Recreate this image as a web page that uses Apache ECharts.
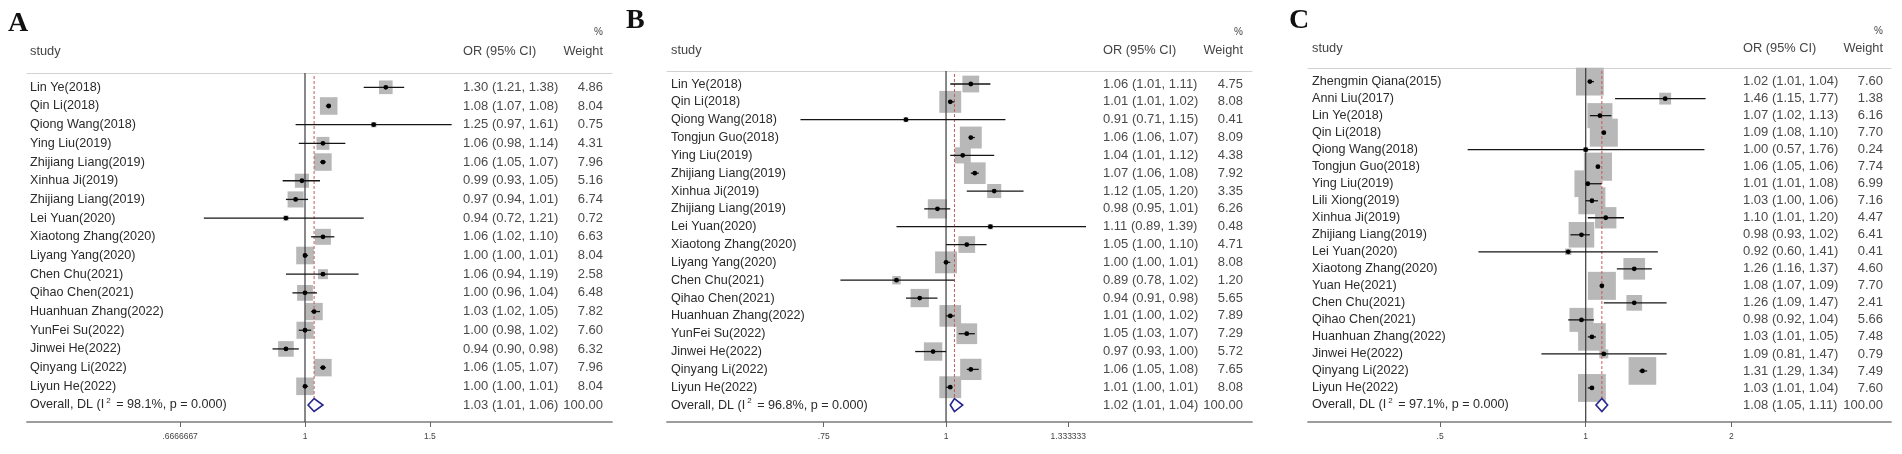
<!DOCTYPE html>
<html>
<head>
<meta charset="utf-8">
<script src="https://cdn.jsdelivr.net/npm/echarts@6/dist/echarts.min.js"></script>
<style>
  html, body { margin: 0; background: #fff; }
  #chart { width: 1902px; height: 454px; }
</style>
</head>
<body>
<div id="chart"></div>
<script>
/* ---------- Panel A ---------- */
const studiesA = ['Lin Ye(2018)','Qin Li(2018)','Qiong Wang(2018)','Ying Liu(2019)','Zhijiang Liang(2019)',
  'Xinhua Ji(2019)','Zhijiang Liang(2019)','Lei Yuan(2020)','Xiaotong Zhang(2020)','Liyang Yang(2020)',
  'Chen Chu(2021)','Qihao Chen(2021)','Huanhuan Zhang(2022)','YunFei Su(2022)','Jinwei He(2022)',
  'Qinyang Li(2022)','Liyun He(2022)'];
const orA = [1.30,1.08,1.25,1.06,1.06,0.99,0.97,0.94,1.06,1.00,1.06,1.00,1.03,1.00,0.94,1.06,1.00];
const loA = [1.21,1.07,0.97,0.98,1.05,0.93,0.94,0.72,1.02,1.00,0.94,0.96,1.02,0.98,0.90,1.05,1.00];
const hiA = [1.38,1.08,1.61,1.14,1.07,1.05,1.01,1.21,1.10,1.01,1.19,1.04,1.05,1.02,0.98,1.07,1.01];
const wA  = [4.86,8.04,0.75,4.31,7.96,5.16,6.74,0.72,6.63,8.04,2.58,6.48,7.82,7.60,6.32,7.96,8.04];
const overallA = [1.03,1.01,1.06];
const i2A = '98.1%';
const ticksA = [0.6666667,1,1.5];
const tickTextA = ['.6666667','1','1.5'];

/* ---------- Panel B ---------- */
const studiesB = ['Lin Ye(2018)','Qin Li(2018)','Qiong Wang(2018)','Tongjun Guo(2018)','Ying Liu(2019)',
  'Zhijiang Liang(2019)','Xinhua Ji(2019)','Zhijiang Liang(2019)','Lei Yuan(2020)','Xiaotong Zhang(2020)',
  'Liyang Yang(2020)','Chen Chu(2021)','Qihao Chen(2021)','Huanhuan Zhang(2022)','YunFei Su(2022)',
  'Jinwei He(2022)','Qinyang Li(2022)','Liyun He(2022)'];
const orB = [1.06,1.01,0.91,1.06,1.04,1.07,1.12,0.98,1.11,1.05,1.00,0.89,0.94,1.01,1.05,0.97,1.06,1.01];
const loB = [1.01,1.01,0.71,1.06,1.01,1.06,1.05,0.95,0.89,1.00,1.00,0.78,0.91,1.00,1.03,0.93,1.05,1.00];
const hiB = [1.11,1.02,1.15,1.07,1.12,1.08,1.20,1.01,1.39,1.10,1.01,1.02,0.98,1.02,1.07,1.00,1.08,1.01];
const wB  = [4.75,8.08,0.41,8.09,4.38,7.92,3.35,6.26,0.48,4.71,8.08,1.20,5.65,7.89,7.29,5.72,7.65,8.08];
const overallB = [1.02,1.01,1.04];
const i2B = '96.8%';
const ticksB = [0.75,1,1.333333];
const tickTextB = ['.75','1','1.333333'];

/* ---------- Panel C ---------- */
const studiesC = ['Zhengmin Qiana(2015)','Anni Liu(2017)','Lin Ye(2018)','Qin Li(2018)','Qiong Wang(2018)',
  'Tongjun Guo(2018)','Ying Liu(2019)','Lili Xiong(2019)','Xinhua Ji(2019)','Zhijiang Liang(2019)',
  'Lei Yuan(2020)','Xiaotong Zhang(2020)','Yuan He(2021)','Chen Chu(2021)','Qihao Chen(2021)',
  'Huanhuan Zhang(2022)','Jinwei He(2022)','Qinyang Li(2022)','Liyun He(2022)'];
const orC = [1.02,1.46,1.07,1.09,1.00,1.06,1.01,1.03,1.10,0.98,0.92,1.26,1.08,1.26,0.98,1.03,1.09,1.31,1.03];
const loC = [1.01,1.15,1.02,1.08,0.57,1.05,1.01,1.00,1.01,0.93,0.60,1.16,1.07,1.09,0.92,1.01,0.81,1.29,1.01];
const hiC = [1.04,1.77,1.13,1.10,1.76,1.06,1.08,1.06,1.20,1.02,1.41,1.37,1.09,1.47,1.04,1.05,1.47,1.34,1.04];
const wC  = [7.60,1.38,6.16,7.70,0.24,7.74,6.99,7.16,4.47,6.41,0.41,4.60,7.70,2.41,5.66,7.48,0.79,7.49,7.60];
const overallC = [1.08,1.05,1.11];
const i2C = '97.1%';
const ticksC = [0.5,1,2];
const tickTextC = ['.5','1','2'];

const OVERALL_WEIGHT = 100;
const NULL_OR = 1;

/* ---------- layout (pixels) ---------- */
const FONT = '"Liberation Sans", Arial, sans-serif';
const AXIS_Y = 422, H = 454;
const PANELS = [
  {tag:'A', names:studiesA, or:orA, lo:loA, hi:hiA, w:wA, ov:overallA, i2:i2A, ticks:ticksA, tickText:tickTextA,
   left:27, right:612, top:73, xMin:0.4055, xMax:2.7096, yMin:-0.765, yMax:17.91, box:6.2,
   nameGap:3, numGap:9, headY:51, pctY:32, letterX:8, letterY:25},
  {tag:'B', names:studiesB, or:orB, lo:loB, hi:hiB, w:wB, ov:overallB, i2:i2B, ticks:ticksB, tickText:tickTextB,
   left:667, right:1252, top:71, xMin:0.5187, xMax:2.054, yMin:-0.73, yMax:18.95, box:7.7,
   nameGap:4, numGap:9, headY:50, pctY:32, letterX:626, letterY:22},
  {tag:'C', names:studiesC, or:orC, lo:loC, hi:hiC, w:wC, ov:overallC, i2:i2C, ticks:ticksC, tickText:tickTextC,
   left:1308, right:1891, top:68, xMin:0.2665, xMax:4.279, yMin:-0.80, yMax:20.0, box:10.1,
   nameGap:4, numGap:8, headY:48, pctY:31, letterX:1289, letterY:22}
];
const NUM_COL = 140;   // width of "OR (95% CI)" + "% Weight" block

const ci = (a,b,c) => `${a.toFixed(2)} (${b.toFixed(2)}, ${c.toFixed(2)})`;

function boxItem(k){
  return (params, api) => {
    const c = api.coord([api.value(0), api.value(4)]);
    const s = k * Math.sqrt(api.value(3));
    return {type:'rect', shape:{x:c[0]-s/2, y:c[1]-s/2, width:s, height:s}, style:{fill:'#b8b8b8'}};
  };
}
function ciItem(params, api){
  const i = api.value(4);
  const a = api.coord([api.value(1), i]), b = api.coord([api.value(2), i]), c = api.coord([api.value(0), i]);
  return {type:'group', children:[
    {type:'line', shape:{x1:a[0], y1:a[1], x2:b[0], y2:b[1]}, style:{stroke:'#151515', lineWidth:1.3}},
    {type:'circle', shape:{cx:c[0], cy:c[1], r:2.4}, style:{fill:'#000'}}
  ]};
}
function overallItem(params, api){
  const i = api.value(3);
  const c = api.coord([api.value(0), i]), a = api.coord([api.value(1), i]), b = api.coord([api.value(2), i]);
  const ref = api.coord([NULL_OR, i]);
  const cs = params.coordSys, h = 6.5;
  return {type:'group', children:[
    {type:'line', shape:{x1:ref[0], y1:cs.y, x2:ref[0], y2:cs.y+cs.height}, style:{stroke:'#3a3a3a', lineWidth:1.2}},
    {type:'line', shape:{x1:c[0], y1:cs.y+3, x2:c[0], y2:c[1]-h}, style:{stroke:'#c65b5b', lineWidth:1, lineDash:[3,2]}},
    {type:'polygon', shape:{points:[[a[0],c[1]],[c[0],c[1]-h],[b[0],c[1]],[c[0],c[1]+h]]},
     style:{fill:'#fff', stroke:'#26268c', lineWidth:1.6}}
  ]};
}

const grid = [], xAxis = [], yAxis = [], series = [], graphic = [];
PANELS.forEach((p, k) => {
  const n = p.names.length;
  const rows = Array.from({length:n+1}, (_, i) => i);
  grid.push({left:p.left, width:p.right-p.left, top:p.top, bottom:H-AXIS_Y, containLabel:false});

  xAxis.push({type:'log', gridIndex:k, min:p.xMin, max:p.xMax, position:'bottom',
    axisLine:{onZero:false, lineStyle:{color:'#9c9c9c', width:1.8}},
    axisTick:{customValues:p.ticks, length:5, lineStyle:{color:'#666', width:1}},
    axisLabel:{customValues:p.ticks, margin:10, fontSize:8.5, color:'#444', fontFamily:FONT,
      formatter:v => {
        let best = 0;
        p.ticks.forEach((t, j) => { if (Math.abs(t-v) < Math.abs(p.ticks[best]-v)) best = j; });
        return p.tickText[best];
      }},
    splitLine:{show:false}, minorTick:{show:false}});
  xAxis.push({type:'value', gridIndex:k, position:'top', min:0, max:1,
    axisLine:{onZero:false, lineStyle:{color:'#d2d2d2', width:1}}, axisTick:{show:false}, axisLabel:{show:false},
    splitLine:{show:false}});

  yAxis.push({type:'value', gridIndex:k, inverse:true, min:p.yMin, max:p.yMax, position:'left',
    axisLine:{show:false, onZero:false}, axisTick:{show:false}, splitLine:{show:false},
    axisLabel:{inside:true, margin:p.nameGap, customValues:rows, color:'#2b2b2b', fontSize:12.6, fontFamily:FONT,
      formatter:v => {
        const i = Math.round(v);
        if (i < n) return p.names[i];
        return `{t|Overall, DL (I}{s|2}{t| = ${p.i2}, p = 0.000)}`;
      },
      rich:{t:{fontSize:12.6, color:'#2b2b2b', fontFamily:FONT, lineHeight:16},
            s:{fontSize:8, color:'#2b2b2b', fontFamily:FONT, verticalAlign:'top', padding:[0,2,0,2]}}}});
  yAxis.push({type:'value', gridIndex:k, inverse:true, min:p.yMin, max:p.yMax, position:'right',
    axisLine:{show:false, onZero:false}, axisTick:{show:false}, splitLine:{show:false},
    axisLabel:{inside:true, margin:p.numGap, customValues:rows, color:'#4a4a4a', fontSize:13, fontFamily:FONT,
      formatter:v => {
        const i = Math.round(v);
        if (i < n) return `{o|${ci(p.or[i], p.lo[i], p.hi[i])}}{w|${p.w[i].toFixed(2)}}`;
        return `{o|${ci(p.ov[0], p.ov[1], p.ov[2])}}{w|${OVERALL_WEIGHT.toFixed(2)}}`;
      },
      rich:{o:{width:NUM_COL-40, align:'left', fontSize:13, color:'#4a4a4a', fontFamily:FONT},
            w:{width:40, align:'right', fontSize:13, color:'#4a4a4a', fontFamily:FONT}}}});

  const studyData = p.names.map((_, i) => [p.or[i], p.lo[i], p.hi[i], p.w[i], i]);
  const common = {type:'custom', xAxisIndex:2*k, yAxisIndex:2*k, silent:true, clip:false};
  series.push({...common, name:p.tag+'-box', z:1, renderItem:boxItem(p.box), encode:{x:[0,1,2], y:4}, data:studyData});
  series.push({...common, name:p.tag+'-overall', z:2, renderItem:overallItem, encode:{x:[0,1,2], y:3},
    data:[[p.ov[0], p.ov[1], p.ov[2], n]]});
  series.push({...common, name:p.tag+'-ci', z:3, renderItem:ciItem, encode:{x:[0,1,2], y:4}, data:studyData});

  // headers and panel letter
  const numRight = p.right - p.numGap;
  const hs = {fontSize:12.8, fill:'#444', fontFamily:FONT};
  graphic.push(
    {type:'text', left:p.letterX, top:p.letterY-15, style:{text:p.tag, fontSize:28, fontWeight:'bold',
      fontFamily:'"Liberation Serif", "Times New Roman", serif', fill:'#111'}},
    {type:'text', x:p.left+p.nameGap, y:p.headY, style:{...hs, text:'study', verticalAlign:'middle'}},
    {type:'text', x:numRight-NUM_COL, y:p.headY, style:{...hs, text:'OR (95% CI)', verticalAlign:'middle'}},
    {type:'text', x:numRight, y:p.headY, style:{...hs, text:'Weight', align:'right', verticalAlign:'middle'}},
    {type:'text', x:numRight, y:p.pctY, style:{...hs, text:'%', align:'right', verticalAlign:'middle', fontSize:10}}
  );
});

const chart = echarts.init(document.getElementById('chart'), null, {renderer:'canvas'});
chart.setOption({
  animation:false,
  backgroundColor:'#fff',
  textStyle:{fontFamily:FONT},
  grid, xAxis, yAxis, series, graphic
});
</script>
</body>
</html>
